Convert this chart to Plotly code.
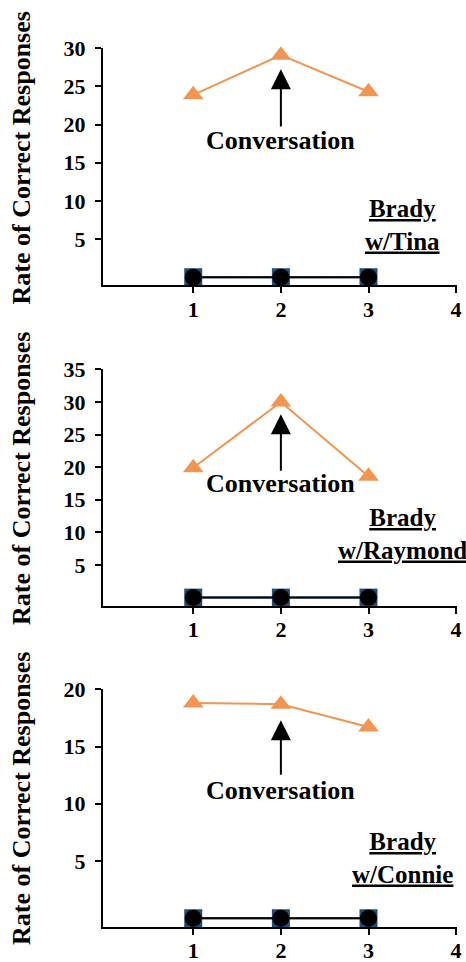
import plotly.graph_objects as go

# ---- data ----
sessions = [1, 2, 3]
panel_labels = ["Brady<br>w/Tina", "Brady<br>w/Raymond", "Brady<br>w/Connie"]
conversation_rates = [
    [23.9, 29.1, 24.3],   # w/Tina
    [19.9, 30.0, 18.6],   # w/Raymond
    [18.8, 18.7, 16.7],   # w/Connie
]
circle_rates = [[0, 0, 0], [0, 0, 0], [0, 0, 0]]
square_rates = [[0, 0, 0], [0, 0, 0], [0, 0, 0]]
y_ticks = [
    [5, 10, 15, 20, 25, 30],
    [5, 10, 15, 20, 25, 30, 35],
    [5, 10, 15, 20],
]
x_ticks = [1, 2, 3, 4]
# arrow (tip, tail) and "Conversation" label heights in data units
arrow_tip = [27.25, 28.1, 17.3]
arrow_tail = [19.55, 19.2, 12.4]
conv_label_y = [17.9, 17.5, 11.2]

# ---- layout geometry (pixels) ----
W, H = 466, 962
y_top_px = [48.3, 369.3, 689.3]
y_bot_px = [285.3, 605.7, 926.7]
y_ranges = [[-1.06, 30], [-1.24, 35], [-0.74, 20]]
label_center_px = [225, 533.5, 858]
title_center_px = [158.5, 479, 799]

FONT = "Liberation Serif"
ORANGE = "rgb(240,150,82)"
NAVY = "rgb(31,78,121)"

fig = go.Figure()
annotations = []
for i in range(3):
    n = "" if i == 0 else str(i + 1)
    xa, ya = "x" + n, "y" + n
    fig.add_trace(go.Scatter(
        x=sessions, y=square_rates[i], xaxis=xa, yaxis=ya, mode="lines+markers",
        line=dict(color=NAVY, width=2),
        marker=dict(symbol="square", size=18, color=NAVY), showlegend=False,
        cliponaxis=False))
    fig.add_trace(go.Scatter(
        x=sessions, y=circle_rates[i], xaxis=xa, yaxis=ya, mode="lines+markers",
        line=dict(color="black", width=2),
        marker=dict(symbol="circle", size=17, color="black"), showlegend=False,
        cliponaxis=False))
    fig.add_trace(go.Scatter(
        x=sessions, y=conversation_rates[i], xaxis=xa, yaxis=ya, mode="lines+markers",
        line=dict(color=ORANGE, width=2),
        marker=dict(symbol="triangle-up", size=18, color=ORANGE), showlegend=False,
        cliponaxis=False))

    dom_y = [1 - y_bot_px[i] / H, 1 - y_top_px[i] / H]
    axis_common = dict(showline=True, linecolor="black", linewidth=2,
                       ticks="outside", tickcolor="black", tickwidth=2, ticklen=6,
                       showgrid=False, zeroline=False, automargin=False,
                       tickfont=dict(family=FONT, size=22, color="black", weight="bold"))
    fig.update_layout(**{
        "xaxis" + n: dict(domain=[103 / W, 457 / W], range=[-0.03, 4.01], anchor=ya,
                          tickvals=x_ticks, ticklabelstandoff=-3, **axis_common),
        "yaxis" + n: dict(domain=dom_y, range=y_ranges[i], anchor=xa,
                          tickvals=y_ticks[i], ticklabelstandoff=5, **axis_common),
    })

    # arrow
    annotations.append(dict(
        x=2, y=arrow_tip[i], ax=2, ay=arrow_tail[i], xref=xa, yref=ya,
        axref=xa, ayref=ya, text="", showarrow=True, arrowhead=2,
        arrowsize=2.0, arrowwidth=2, arrowcolor="black", standoff=0))
    annotations.append(dict(
        x=2, y=conv_label_y[i], xref=xa, yref=ya, text="<b>Conversation</b>",
        showarrow=False, font=dict(family=FONT, size=26, color="black"),
        xanchor="center", yanchor="middle"))
    annotations.append(dict(
        x=402 / W, y=1 - label_center_px[i] / H, xref="paper", yref="paper",
        text="<b><u>" + panel_labels[i].replace("<br>", "</u></b><br><b><u>") + "</u></b>",
        showarrow=False, align="center", xanchor="center", yanchor="middle",
        font=dict(family=FONT, size=25, color="black")))
    annotations.append(dict(
        x=21 / W, y=1 - title_center_px[i] / H, xref="paper", yref="paper",
        text="<b>Rate of Correct Responses</b>", textangle=-90, showarrow=False,
        xanchor="center", yanchor="middle",
        font=dict(family=FONT, size=26, color="black")))

fig.update_layout(width=W, height=H, margin=dict(l=0, r=0, t=0, b=0, autoexpand=False),
                  paper_bgcolor="white", plot_bgcolor="white",
                  annotations=annotations, showlegend=False)
fig.write_html("out.html", config={"displayModeBar": False},
               post_script="document.body.style.margin='0';document.body.style.overflow='hidden';")
